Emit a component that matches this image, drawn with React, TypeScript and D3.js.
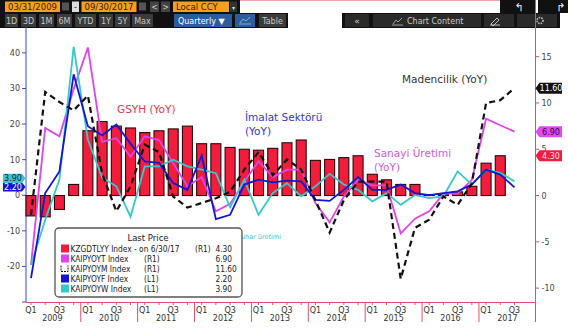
import React from 'react';
import * as d3 from 'd3';

const years = [2009, 2010, 2011, 2012, 2013, 2014, 2015, 2016, 2017];
const quarterNames = ['Q1', 'Q2', 'Q3', 'Q4'];
const periods: string[] = [];
years.forEach((y) => quarterNames.forEach((q) => periods.push(`${q} ${y}`)));
periods.splice(35); // through Q3 2017

// KZGDTLYY Index (R1) - GSYH
const gdp: (number | null)[] = [-2.2, -2.3, -1.5, 1.2, 7.0, 8.0, 7.5, 7.3, 6.8, 7.0, 7.2, 7.5, 5.6, 5.6, 5.2, 5.0, 4.9, 5.1, 5.7, 6.0, 3.8, 3.9, 4.1, 4.3, 2.3, 1.7, 1.2, 1.2, 0.1, 0.1, 0.4, 1.0, 3.5, 4.3, null];
// KAIPYOYT Index (R1) - Sanayi Üretimi
const indProd = [-7.5, 7.3, 6.4, 11.5, 16.0, 5.8, 6.2, 4.2, 6.4, 6.0, 3.5, 1.0, 2.0, -1.7, -0.9, 1.5, 3.7, 2.0, 2.8, 2.8, -0.8, -2.9, -0.1, 1.7, 1.1, 1.1, -4.1, -2.5, -1.7, 0.2, 0.2, 1.7, 8.3, 7.6, 6.9];
// KAIPYOYM Index (R1) - Madencilik
const mining = [-2.1, 11.2, 10.1, 9.2, 10.8, 2.4, -1.7, 1.0, 5.5, 4.7, -0.1, -1.3, -0.8, -0.3, 0.4, 2.8, 4.7, 2.2, 3.9, 2.8, -0.5, -4.0, -0.5, 1.5, 1.5, 1.5, -9.0, -3.5, -2.6, -0.1, -1.0, 1.3, 10.0, 10.3, 11.6];
// KAIPYOYF Index (L1) - İmalat
const manuf = [-23.3, 0.6, 6.7, 34.0, 19.4, 16.8, 19.9, 14.5, 9.5, 9.1, 3.4, 1.5, 11.1, -6.7, -5.5, 3.0, 4.4, 3.6, 4.1, 3.9, -1.3, -1.6, 1.5, 5.1, 1.5, 1.5, 3.0, 0.6, 0.0, 0.6, 1.1, 3.0, 7.2, 5.8, 2.2];
// KAIPYOYW Index (L1) - Elektrik, gaz, buhar
const power = [-19.6, -6.9, 4.4, 41.7, 15.6, 5.0, 2.5, -6.0, 8.1, 8.1, 10.0, 8.1, 7.2, 6.2, -3.4, 4.4, -5.5, 0.6, 3.4, -0.3, 2.5, 6.0, 3.0, 1.5, -1.7, 0.6, -2.7, 0.1, -0.8, -0.3, 6.7, 3.0, 7.2, 6.3, 3.9];

const leftTicks = [-20, -10, 0, 10, 20, 30, 40];
const rightTicks = [-10, -5, 0, 5, 10, 15];
const legendNames = ['KZGDTLYY Index -  on 6/30/17', 'KAIPYOYT Index', 'KAIPYOYM Index', 'KAIPYOYF Index', 'KAIPYOYW Index'];
const legendAxes = ['(R1)', '(R1)', '(R1)', '(L1)', '(L1)'];
const legendValues = ['4.30', '6.90', '11.60', '2.20', '3.90'];

const C = {
  bar: '#f21d3d',
  mag: '#df44ec',
  blue: '#1414d6',
  cyan: '#35c9c9',
  black: '#111',
  axisR: '#e0506e',
  axisL: '#3c48c8',
  orange: '#f5a01d',
};

const FONT = 'DejaVu Sans, Verdana, sans-serif';

export default function App() {
  const x = d3.scaleLinear().domain([0, periods.length - 1]).range([31, 514.5]);
  const yL = d3.scaleLinear().domain([-30, 47]).range([302, 28]);
  const yR = d3.scaleLinear().domain([-11.5, 18.1]).range([302, 28]);
  const barW = 10;
  const lineR = d3.line<number>().x((_, i) => x(i)).y((d) => yR(d));
  const lineL = d3.line<number>().x((_, i) => x(i)).y((d) => yL(d));
  const last = periods.length - 1;

  const rightLabel = (v: number, bg: string, fg: string) => {
    const cy = yR(v);
    const pts = [[535.5, cy], [539.5, cy - 5.5], [562, cy - 5.5], [562, cy + 5.5], [539.5, cy + 5.5]].map((p) => p.join(',')).join(' ');
    return (
      <g key={'r' + v}>
        <polygon points={pts} fill={bg} />
        <text x={551} y={cy + 3} fontSize={8} fill={fg} textAnchor="middle" fontFamily={FONT}>{v.toFixed(2)}</text>
      </g>
    );
  };
  const leftLabel = (v: number, dy: number, bg: string, fg: string) => {
    const cy = yL(v) + dy;
    const pts = [[3, cy - 4.5], [22, cy - 4.5], [25.5, cy], [22, cy + 4.5], [3, cy + 4.5]].map((p) => p.join(',')).join(' ');
    return (
      <g key={'l' + v}>
        <polygon points={pts} fill={bg} />
        <text x={13} y={cy + 3} fontSize={8} fill={fg} textAnchor="middle" fontFamily={FONT}>{v.toFixed(2)}</text>
      </g>
    );
  };

  const tbBtn = (label: string, x0: number, w: number) => (
    <g key={label}>
      <rect x={x0} y={14} width={w} height={13} fill="#3b3b3b" />
      <text x={x0 + w / 2} y={24} fontSize={8} fill="#c8c8c8" textAnchor="middle" fontFamily={FONT}>{label}</text>
    </g>
  );

  const legendSwatch = (i: number, cy: number) => {
    if (i === 2) {
      return <path d={`M61,${cy - 3} v6 h7 v-6`} fill="none" stroke="#111" strokeWidth={1} strokeDasharray="2,1" />;
    }
    const col = [C.bar, C.mag, '', C.blue, C.cyan][i];
    return <rect x={61} y={cy - 4} width={8} height={8} fill={col} />;
  };

  return (
    <svg width={568} height={328} style={{ position: 'absolute', left: 0, top: 0, background: '#fff' }} fontFamily={FONT}>
      <rect width={568} height={328} fill="#fff" />

      {/* Toolbar row 1 */}
      <rect x={0} y={0} width={240} height={13} fill="#111" />
      <rect x={5} y={1.5} width={55} height={10.5} fill={C.orange} />
      <text x={32.5} y={10} fontSize={8.5} fill="#3a1c00" textAnchor="middle">03/31/2009</text>
      <rect x={62} y={2.5} width={7} height={8} fill="#555" />
      <rect x={72} y={1.5} width={7} height={10.5} fill="#ddd" />
      <text x={75.5} y={10} fontSize={8} fill="#222" textAnchor="middle">-</text>
      <rect x={81.5} y={1.5} width={55} height={10.5} fill={C.orange} />
      <text x={109} y={10} fontSize={8.5} fill="#3a1c00" textAnchor="middle">09/30/2017</text>
      <rect x={139} y={2.5} width={7} height={8} fill="#555" />
      <rect x={150} y={1.5} width={9} height={10.5} fill="#444" />
      <text x={154.5} y={10} fontSize={8} fill="#ccc" textAnchor="middle">&lt;</text>
      <rect x={161} y={1.5} width={9} height={10.5} fill="#444" />
      <text x={165.5} y={10} fontSize={8} fill="#ccc" textAnchor="middle">&gt;</text>
      <rect x={173} y={1.5} width={56} height={10.5} fill={C.orange} />
      <text x={176} y={10} fontSize={8.5} fill="#3a1c00">Local CCY</text>
      <rect x={230} y={1.5} width={7} height={10.5} fill="#333" />
      <text x={233.5} y={9.5} fontSize={6} fill="#ddd" textAnchor="middle">▾</text>
      <line x1={240} x2={500} y1={0.5} y2={0.5} stroke="#f3a0b0" />
      <rect x={500} y={0} width={36} height={13} fill="#111" />
      <rect x={538} y={0} width={30} height={13} fill="#111" />
      <text x={519} y={11} fontSize={11} fill="#eee" textAnchor="middle">↰</text>
      <text x={561} y={11} fontSize={11} fill="#eee" textAnchor="middle">↱</text>

      {/* Toolbar row 2 */}
      <rect x={0} y={13} width={288} height={15} fill="#111" />
      {tbBtn('1D', 5, 13)}
      {tbBtn('3D', 21, 15)}
      {tbBtn('1M', 39, 15)}
      {tbBtn('6M', 57, 15)}
      {tbBtn('YTD', 75, 21)}
      {tbBtn('1Y', 99, 14)}
      {tbBtn('5Y', 115, 15)}
      {tbBtn('Max', 132, 21)}
      <rect x={174} y={14} width={58} height={13} fill="#2b5c9e" />
      <text x={178} y={24} fontSize={8} fill="#fff">Quarterly ▼</text>
      <rect x={235} y={14} width={20} height={13} fill="#2b5c9e" />
      <path d="M239,24 h12 M240,23 l3,-4 l3,2 l4,-4" fill="none" stroke="#9cc0ee" strokeWidth={0.8} />
      {tbBtn('Table', 259, 27)}
      <rect x={342} y={13} width={218} height={15} fill="#111" />
      <rect x={345} y={14} width={24} height={13} fill="#2a2a2a" />
      <text x={357} y={24} fontSize={9} fill="#ccc" textAnchor="middle">«</text>
      <rect x={373} y={14} width={108} height={13} fill="#2a2a2a" />
      <path d="M393,24 l3,-4 l2,2 l4,-4 M392,25 h11" fill="none" stroke="#bbb" strokeWidth={0.8} />
      <text x={407} y={24} fontSize={8} fill="#ccc">Chart Content</text>
      <rect x={484} y={14} width={30} height={13} fill="#2a2a2a" />
      <path d="M491,24 l6,-6 l2,2 l-6,6 z M490,25 h10" fill="none" stroke="#ccc" strokeWidth={0.9} />
      <rect x={517} y={14} width={40} height={13} fill="#2a2a2a" />
      <circle cx={540} cy={20.5} r={3} fill="none" stroke="#bbb" strokeWidth={1.6} strokeDasharray="1.5,1" />

      {/* Axes lines */}
      <line x1={26} x2={26} y1={27} y2={302} stroke={C.axisL} strokeWidth={1} />
      <line x1={535.5} x2={535.5} y1={0} y2={322} stroke={C.axisR} strokeWidth={1} />
      <line x1={26} x2={535.5} y1={302.5} y2={302.5} stroke={C.axisR} strokeWidth={1} />

      {/* Left ticks */}
      {leftTicks.map((t) => (
        <g key={'lt' + t}>
          <line x1={22} x2={26} y1={yL(t)} y2={yL(t)} stroke={C.axisL} />
          <text x={20} y={yL(t) + 3} fontSize={8} fill="#444" textAnchor="end">{t}</text>
        </g>
      ))}
      <line x1={22} x2={26} y1={yL(-30)} y2={yL(-30)} stroke={C.axisL} />
      {/* Right ticks */}
      {rightTicks.map((t) => (
        <g key={'rt' + t}>
          <line x1={535.5} x2={539} y1={yR(t)} y2={yR(t)} stroke={C.axisR} />
          <text x={541.5} y={yR(t) + 3} fontSize={8} fill="#444">{t}</text>
        </g>
      ))}

      {/* Bottom axis */}
      {periods.map((p, i) => (
        <line key={'qt' + i} x1={x(i)} x2={x(i)} y1={302.5} y2={305} stroke={C.axisR} />
      ))}
      {years.slice(1).map((yr, k) => (
        <line key={'ys' + yr} x1={x(4 * (k + 1) - 0.5)} x2={x(4 * (k + 1) - 0.5)} y1={302.5} y2={322} stroke={C.axisR} />
      ))}
      {periods.map((p, i) =>
        i % 2 === 0 ? (
          <text key={'ql' + i} x={x(i)} y={312.5} fontSize={8} fill="#333" textAnchor="middle">{p.split(' ')[0]}</text>
        ) : null
      )}
      {years.map((yr, k) => (
        <text key={'yl' + yr} x={x(4 * k + 1.5)} y={321} fontSize={8} fill="#333" textAnchor="middle">{yr}</text>
      ))}

      {/* Bars */}
      {gdp.map((v, i) =>
        v === null ? null : (
          <rect key={'b' + i} x={x(i) - barW / 2} y={Math.min(yR(v), yR(0))} width={barW} height={Math.abs(yR(v) - yR(0))} fill={C.bar} stroke="#2a0a0a" strokeWidth={1.1} />
        )
      )}

      {/* Lines */}
      <path d={lineR(indProd) || ''} fill="none" stroke={C.mag} strokeWidth={1.8} />
      <path d={lineL(power) || ''} fill="none" stroke={C.cyan} strokeWidth={1.8} />
      <path d={lineL(manuf) || ''} fill="none" stroke={C.blue} strokeWidth={1.8} />
      <path d={lineR(mining) || ''} fill="none" stroke={C.black} strokeWidth={2.2} strokeDasharray="6,4" />

      {/* Annotations */}
      <text x={117} y={113} fontSize={10.5} fill="#e8344c">GSYH (YoY)</text>
      <text x={245} y={121} fontSize={10.5} fill="#3535d6">İmalat Sektörü</text>
      <text x={245} y={135} fontSize={10.5} fill="#3535d6">(YoY)</text>
      <text x={374} y={157} fontSize={10.5} fill="#d35ad8">Sanayi Üretimi</text>
      <text x={374} y={171} fontSize={10.5} fill="#d35ad8">(YoY)</text>
      <text x={402} y={83} fontSize={10.5} fill="#333">Madencilik (YoY)</text>
      <text x={281} y={239} fontSize={6.5} fill="#45c4d0" textAnchor="end">Elektrik, gaz, buhar üretimi</text>

      {/* Legend */}
      <rect x={55} y={228} width={187} height={69} rx={4} fill="#fff" stroke="#555" strokeWidth={1.3} />
      <text x={148} y={241} fontSize={8.5} fill="#222" textAnchor="middle">Last Price</text>
      {legendNames.map((n, i) => {
        const cy = 248.5 + i * 10;
        return (
          <g key={'lg' + i} fontSize={8.3} fill="#222" style={{ fontStretch: 'condensed' }}>
            {legendSwatch(i, cy)}
            <text x={70.5} y={cy + 3}>{n}</text>
            <text x={i === 0 ? 195 : 144} y={cy + 3}>{legendAxes[i]}</text>
            <text x={215.5} y={cy + 3}>{legendValues[i]}</text>
          </g>
        );
      })}

      {/* Value labels */}
      {leftLabel(manuf[last], -0.5, C.blue, '#fff')}
      {leftLabel(power[last], -3, C.cyan, '#102040')}
      {rightLabel(mining[last], '#111', '#fff')}
      {rightLabel(indProd[last], '#e048f4', '#3a0a40')}
      {rightLabel(gdp[last - 1] as number, C.bar, '#fde')}
    </svg>
  );
}
